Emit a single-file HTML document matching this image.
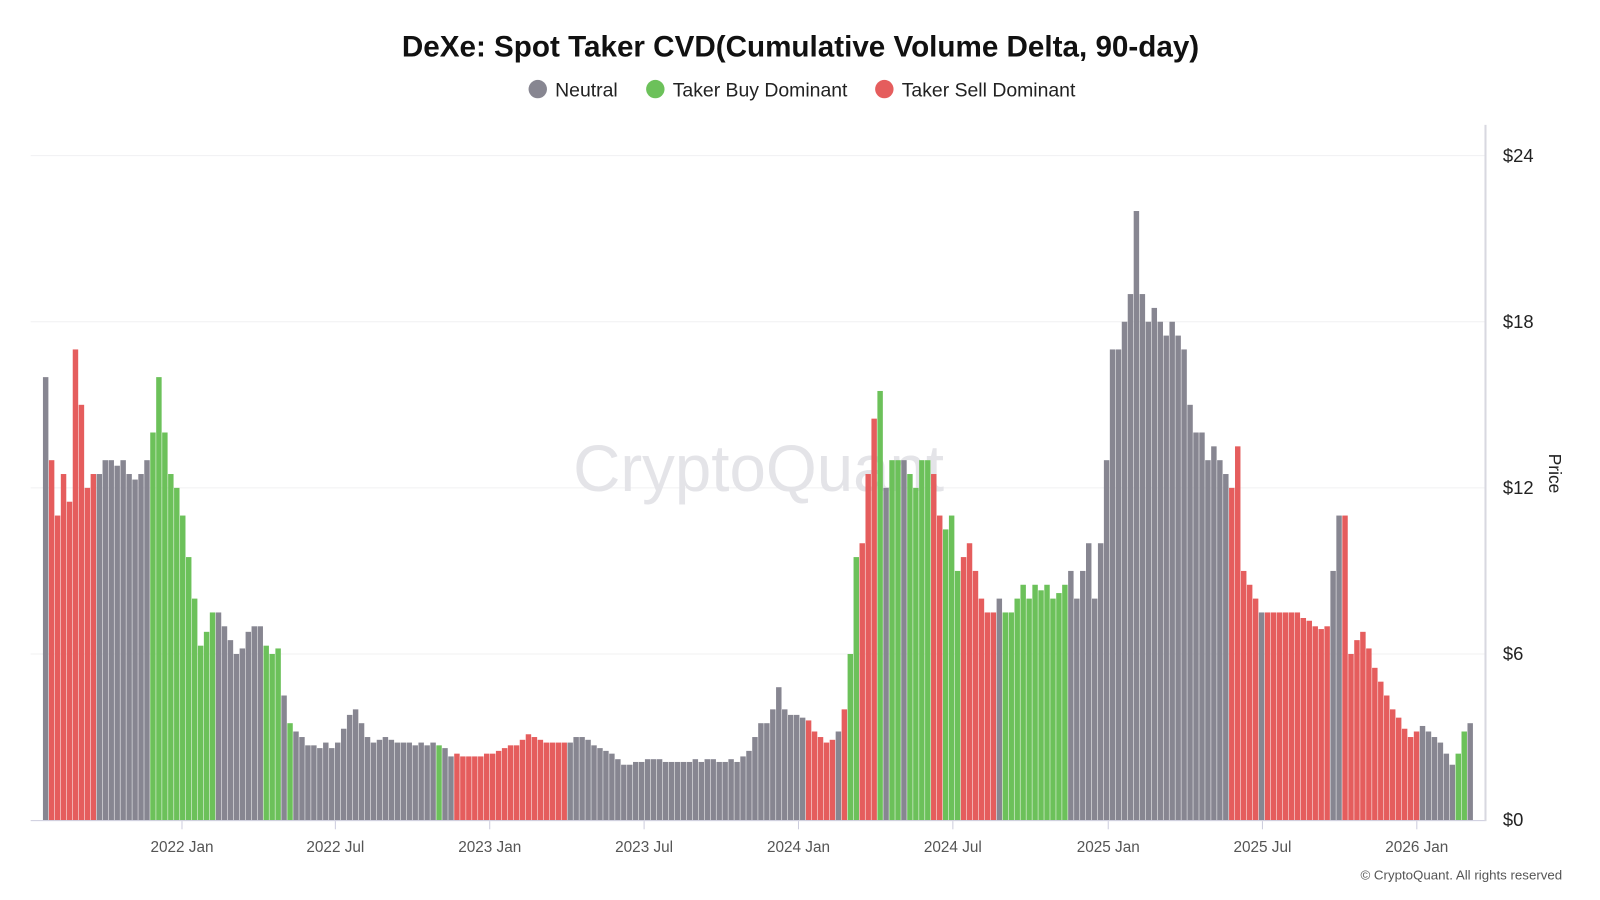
<!DOCTYPE html>
<html><head><meta charset="utf-8"><style>
html,body{margin:0;padding:0;background:#fff;}
svg{display:block;font-family:"Liberation Sans",sans-serif;}
</style></head><body>
<svg id="chart" width="1600" height="900" viewBox="0 0 1565 880" xmlns="http://www.w3.org/2000/svg">
<rect width="1565" height="880" fill="#fff"/>
<text x="783" y="55" text-anchor="middle" font-size="29" font-weight="bold" fill="#111">DeXe: Spot Taker CVD(Cumulative Volume Delta, 90-day)</text>
<g font-size="19" fill="#222">
<g><circle cx="526" cy="87" r="9" fill="#878691"/><text x="543" y="94">Neutral</text></g>
<g><circle cx="641" cy="87" r="9" fill="#6cc15a"/><text x="658" y="94">Taker Buy Dominant</text></g>
<g><circle cx="865" cy="87" r="9" fill="#e55d5d"/><text x="882" y="94">Taker Sell Dominant</text></g>
</g>
<g id="grid"></g>
<text x="742" y="480" text-anchor="middle" font-size="64" fill="#e4e4e8">CryptoQuant</text>
<g id="bars"></g>
<line x1="30" y1="802.5" x2="1453" y2="802.5" stroke="#ccd" stroke-width="1"/>
<line x1="1453" y1="122" x2="1453" y2="803" stroke="#d8d8e0" stroke-width="2"/>
<g id="xticks"></g>
<g id="yticks"></g>
<text transform="translate(1515,463) rotate(90)" text-anchor="middle" font-size="17" fill="#222">Price</text>
<text x="1528" y="860" text-anchor="end" font-size="13" fill="#555">© CryptoQuant. All rights reserved</text>
</svg>
<script>
const values=[16,13,11,12.5,11.5,17,15,12,12.5,
12.5,13,13,12.8,13,12.5,12.3,12.5,13,
14,16,14,12.5,12,11,9.5,8,6.3,6.8,7.5,
7.5,7,6.5,6,6.2,6.8,7,7,
6.3,6,6.2,4.5,3.5,3.2,3,2.7,2.7,2.6,2.8,2.6,2.8,3.3,3.8,4,3.5,3,2.8,2.9,3,2.9,2.8,2.8,2.8,2.7,2.8,2.7,2.8,2.7,2.6,2.3,2.4,
2.3,2.3,2.3,2.3,2.4,2.4,2.5,2.6,2.7,2.7,2.9,3.1,3.0,2.9,2.8,2.8,2.8,2.8,2.8,
3.0,3.0,2.9,2.7,2.6,2.5,2.4,2.2,2.0,2.0,2.1,2.1,2.2,2.2,2.2,2.1,2.1,2.1,2.1,2.1,2.2,2.1,2.2,2.2,2.1,2.1,2.2,2.1,2.3,2.5,3.0,3.5,3.5,4,4.8,4,3.8,3.8,3.7,3.6,
3.2,3.0,2.8,2.9,3.2,4,6,9.5,10,12.5,14.5,15.5,12,13,13,13,12.5,12,13,13,12.5,11,10.5,11,9,9.5,10,9,8,7.5,7.5,8,7.5,
7.5,8,8.5,8,8.5,8.3,8.5,8,8.2,8.5,9,8,9,10,8,10,13,17,17,18,19,22,19,18,18.5,18,17.5,18,17.5,17,15,14,14,13,13.5,13,12.5,
12,13.5,9,8.5,8,7.5,7.5,7.5,7.5,7.5,7.5,7.5,7.3,7.2,7,6.9,7,9,11,11,6,6.5,6.8,6.2,5.5,5,4.5,4,3.7,3.3,3,3.2,3.4,3.2,3,2.8,2.4,2.0,2.4,3.2,3.5];
const regimes=("nrrrrrrrr"+"nnnnnnnnn"+"ggggggggggg"+"nnnnnnnn"+"gggng"+"nnnnnnnnnnnnnnnnnnnnnnnngnn"+"rrrrrrrrrrrrrrrrrrr"+"nnnnnnnnnnnnnnnnnnnnnnnnnnnnnnnnnnnnnnnn"+"rrrrrnrggrrrgnggnggggrrgggrrrrrrn"+"gggggggggggnnnnnnnnnnnnnnnnnnnnnnnnnnn"+"rrrrrnrrrrrrrrrrrnnrrrrrrrrrrrrrnnnnnngg").split("");
const yTickValues=[0,6,12,18,24];
const yTickLabels=["$0","$6","$12","$18","$24"];
const xTickLabels=["2022 Jan","2022 Jul","2023 Jan","2023 Jul","2024 Jan","2024 Jul","2025 Jan","2025 Jul","2026 Jan"];
const xTickWeeks=[23.33,49.06,74.96,100.86,126.76,152.66,178.73,204.6,230.5];
const colors={n:"#878691",g:"#6cc15a",r:"#e55d5d"};
const X0=42,STEP=5.83,Y0=802,PXPER=27.08;
const xScale=w=>X0+w*STEP;
const yScale=v=>Y0-v*PXPER;
const NS="http://www.w3.org/2000/svg";
const grid=document.getElementById('grid'),bars=document.getElementById('bars'),xt=document.getElementById('xticks'),yt=document.getElementById('yticks');
yTickValues.forEach((v,i)=>{
 if(v>0){const l=document.createElementNS(NS,'line');
 
 
 l.setAttribute('x1',30);l.setAttribute('x2',1453);l.setAttribute('y1',yScale(v));l.setAttribute('y2',yScale(v));l.setAttribute('stroke','#f0f0f2');grid.appendChild(l);}
 const t=document.createElementNS(NS,'text');
 
 
 t.setAttribute('x',1470);t.setAttribute('y',yScale(v)+6);t.setAttribute('font-size','18');t.setAttribute('fill','#222');t.textContent=yTickLabels[i];yt.appendChild(t);
});
values.forEach((v,i)=>{
 const r=document.createElementNS(NS,'rect');
 
 
 const x=xScale(i);
 r.setAttribute('x',x);r.setAttribute('width',STEP-0.5);r.setAttribute('y',yScale(v));r.setAttribute('height',Y0-yScale(v));
 r.setAttribute('fill',colors[regimes[i]||'n']);bars.appendChild(r);
});
xTickLabels.forEach((lab,i)=>{
 const x=xScale(xTickWeeks[i]);
 const l=document.createElementNS(NS,'line');
 
 
 l.setAttribute('x1',x);l.setAttribute('x2',x);l.setAttribute('y1',803);l.setAttribute('y2',811);l.setAttribute('stroke','#ccd');xt.appendChild(l);
 const t=document.createElementNS(NS,'text');
 
 
 t.setAttribute('x',x);t.setAttribute('y',833);t.setAttribute('text-anchor','middle');t.setAttribute('font-size','15');t.setAttribute('fill','#555');t.textContent=lab;xt.appendChild(t);
});
</script>
</body></html>
